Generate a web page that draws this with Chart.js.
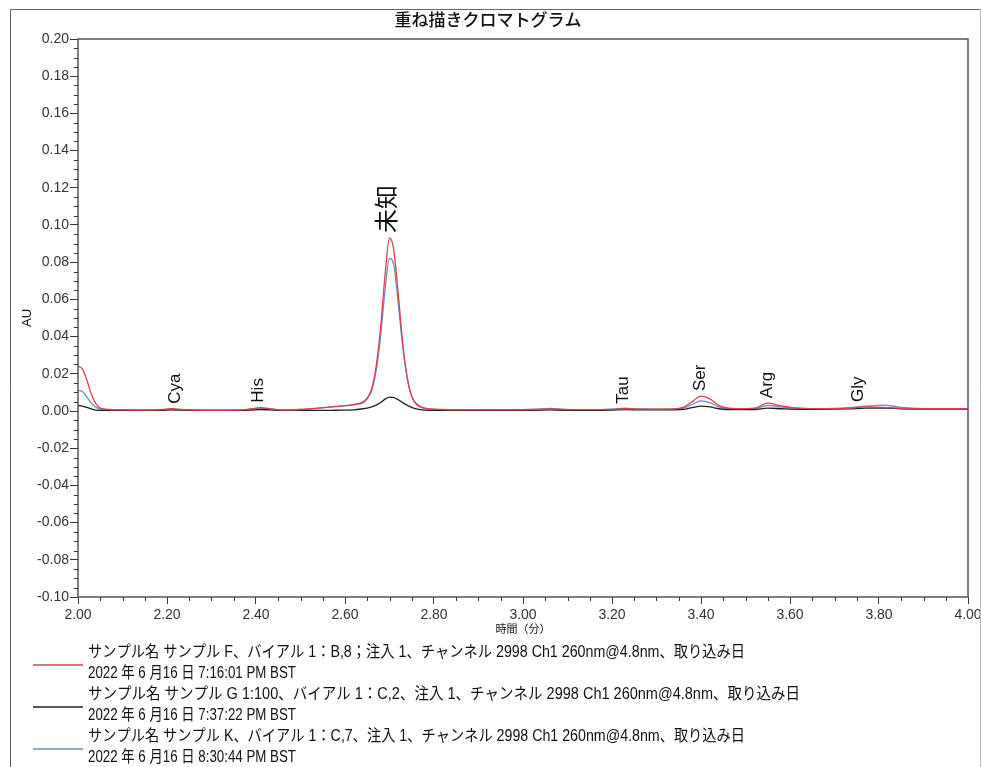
<!DOCTYPE html>
<html>
<head>
<meta charset="utf-8">
<script src="https://cdn.jsdelivr.net/npm/chart.js@4/dist/chart.umd.min.js"></script>
<style>
  body { margin: 0; background: #fff; }
  canvas { display: block; }
</style>
</head>
<body>
<canvas id="myChart" width="981" height="767"></canvas>
<script>
// retention time (min)
const times = [
    2.00, 2.01, 2.02, 2.03, 2.04, 2.05, 2.07, 2.10, 2.15, 2.19, 2.21, 2.23, 2.27, 2.32,
    2.37, 2.39, 2.41, 2.43, 2.46, 2.50, 2.54, 2.58, 2.62,
    2.64, 2.65, 2.66, 2.67, 2.68, 2.69, 2.70, 2.71, 2.72, 2.73, 2.74, 2.75, 2.76,
    2.78, 2.82, 2.90, 2.98, 3.03, 3.06, 3.09, 3.15, 3.20, 3.23, 3.26, 3.32,
    3.36, 3.38, 3.40, 3.42, 3.44, 3.48, 3.52, 3.55, 3.58, 3.62, 3.68, 3.73, 3.77,
    3.81, 3.85, 3.90, 3.95, 4.00
];

// サンプル F (red)
const sampleF = [
    0.0240, 0.0225, 0.0165, 0.0090, 0.0040, 0.0015, 0.0008, 0.0006, 0.0005, 0.0008, 0.0012, 0.0009, 0.0005, 0.0004,
    0.0006, 0.0012, 0.0018, 0.0013, 0.0005, 0.0008, 0.0016, 0.0025, 0.0036,
    0.0048, 0.0070, 0.0120, 0.0240, 0.0450, 0.0730, 0.0930, 0.0860, 0.0620, 0.0360, 0.0180, 0.0080, 0.0040,
    0.0015, 0.0008, 0.0006, 0.0006, 0.0008, 0.0011, 0.0008, 0.0007, 0.0009, 0.0012, 0.0010, 0.0010,
    0.0020, 0.0050, 0.0080, 0.0065, 0.0030, 0.0012, 0.0015, 0.0042, 0.0028, 0.0015, 0.0012, 0.0014, 0.0022,
    0.0020, 0.0014, 0.0012, 0.0012, 0.0012
];

// サンプル G 1:100 (black)
const sampleG = [
    0.0030, 0.0026, 0.0019, 0.0011, 0.0005, 0.0003, 0.0003, 0.0003, 0.0003, 0.0004, 0.0006, 0.0005, 0.0003, 0.0003,
    0.0003, 0.0005, 0.0008, 0.0006, 0.0003, 0.0003, 0.0003, 0.0004, 0.0006,
    0.0012, 0.0016, 0.0022, 0.0032, 0.0046, 0.0064, 0.0075, 0.0072, 0.0060, 0.0045, 0.0030, 0.0019, 0.0011,
    0.0005, 0.0003, 0.0003, 0.0003, 0.0004, 0.0006, 0.0004, 0.0004, 0.0005, 0.0007, 0.0006, 0.0006,
    0.0009, 0.0018, 0.0026, 0.0022, 0.0012, 0.0007, 0.0008, 0.0015, 0.0012, 0.0009, 0.0009, 0.0011, 0.0015,
    0.0016, 0.0012, 0.0010, 0.0010, 0.0010
];

// サンプル K (blue)
const sampleK = [
    0.0110, 0.0105, 0.0075, 0.0042, 0.0020, 0.0010, 0.0007, 0.0006, 0.0005, 0.0007, 0.0010, 0.0008, 0.0005, 0.0004,
    0.0006, 0.0010, 0.0015, 0.0011, 0.0005, 0.0008, 0.0015, 0.0023, 0.0033,
    0.0044, 0.0065, 0.0110, 0.0215, 0.0400, 0.0650, 0.0820, 0.0780, 0.0570, 0.0340, 0.0170, 0.0075, 0.0036,
    0.0013, 0.0007, 0.0006, 0.0007, 0.0010, 0.0014, 0.0009, 0.0007, 0.0010, 0.0015, 0.0011, 0.0010,
    0.0016, 0.0035, 0.0054, 0.0045, 0.0022, 0.0011, 0.0013, 0.0030, 0.0022, 0.0014, 0.0013, 0.0018, 0.0026,
    0.0032, 0.0020, 0.0013, 0.0012, 0.0012
];

// peak annotations
const peakNames = ['Cya', 'His', '未知', 'Tau', 'Ser', 'Arg', 'Gly'];
const peakTimes = [2.218, 2.405, 2.697, 3.225, 3.398, 3.548, 3.753];
const peakHeights = [0.0012, 0.0018, 0.093, 0.0012, 0.008, 0.0042, 0.0022];

const legendLines = [
    ['サンプル名 サンプル F、バイアル 1：B,8；注入 1、チャンネル 2998 Ch1 260nm@4.8nm、取り込み日', '2022 年 6 月16 日 7:16:01 PM BST'],
    ['サンプル名 サンプル G 1:100、バイアル 1：C,2、注入 1、チャンネル 2998 Ch1 260nm@4.8nm、取り込み日', '2022 年 6 月16 日 7:37:22 PM BST'],
    ['サンプル名 サンプル K、バイアル 1：C,7、注入 1、チャンネル 2998 Ch1 260nm@4.8nm、取り込み日', '2022 年 6 月16 日 8:30:44 PM BST']
];
const legendWidths = [657, 712, 657];

const FONT = '"Liberation Sans", Arial, "Noto Sans CJK JP", sans-serif';
const colors = ['#e0404c', '#202020', '#6b8cc4'];

function toPoints(vals) {
    return times.map((t, i) => ({ x: t, y: vals[i] }));
}

function isMajor(v, step) {
    return Math.abs(v / step - Math.round(v / step)) < 1e-6;
}

// title, frame, box, minor ticks, peak names, legend
const decorations = {
    id: 'decorations',
    afterDraw(chart) {
        const ctx = chart.ctx;
        const area = chart.chartArea;
        const xs = chart.scales.x;
        const ys = chart.scales.y;
        ctx.save();

        // outer frame
        ctx.strokeStyle = '#666';
        ctx.lineWidth = 1;
        ctx.beginPath();
        ctx.moveTo(10.5, 780);
        ctx.lineTo(10.5, 9.5);
        ctx.lineTo(980.5, 9.5);
        ctx.stroke();
        ctx.strokeStyle = '#bbb';
        ctx.beginPath();
        ctx.moveTo(980.5, 9.5);
        ctx.lineTo(980.5, 780);
        ctx.stroke();

        // plot box
        ctx.strokeStyle = '#555';
        ctx.lineWidth = 1.5;
        ctx.strokeRect(area.left, area.top, area.right - area.left, area.bottom - area.top);

        // minor ticks
        ctx.strokeStyle = '#333';
        ctx.lineWidth = 1;
        ctx.beginPath();
        xs.ticks.forEach(t => {
            if (isMajor(t.value, 0.2)) return;
            const px = Math.round(xs.getPixelForValue(t.value)) + 0.5;
            ctx.moveTo(px, area.bottom);
            ctx.lineTo(px, area.bottom + 4);
        });
        ys.ticks.forEach(t => {
            if (isMajor(t.value, 0.02)) return;
            const py = Math.round(ys.getPixelForValue(t.value)) + 0.5;
            ctx.moveTo(area.left, py);
            ctx.lineTo(area.left - 4, py);
        });
        ctx.stroke();

        // title
        ctx.fillStyle = '#111';
        ctx.textAlign = 'center';
        ctx.textBaseline = 'middle';
        ctx.font = '500 17px ' + FONT;
        ctx.fillText('重ね描きクロマトグラム', 488, 21);

        // axis titles
        ctx.font = '11px ' + FONT;
        ctx.fillText('時間（分）', (area.left + area.right) / 2, 630);
        ctx.save();
        ctx.translate(27, (area.top + area.bottom) / 2);
        ctx.rotate(-Math.PI / 2);
        ctx.font = '13px ' + FONT;
        ctx.fillText('AU', 0, 0);
        ctx.restore();

        // peak names
        peakNames.forEach((name, i) => {
            const px = xs.getPixelForValue(peakTimes[i]);
            const py = ys.getPixelForValue(peakHeights[i]) - 5;
            ctx.save();
            ctx.translate(px, py);
            ctx.rotate(-Math.PI / 2);
            ctx.textAlign = 'left';
            ctx.textBaseline = 'middle';
            ctx.font = (name === '未知' ? '24px ' : '17px ') + FONT;
            ctx.fillText(name, 0, 0);
            ctx.restore();
        });

        // legend
        ctx.textAlign = 'left';
        ctx.textBaseline = 'middle';
        ctx.font = '16px ' + FONT;
        legendLines.forEach((lines, i) => {
            const y0 = 653 + i * 42;
            ctx.strokeStyle = colors[i];
            ctx.lineWidth = 1.5;
            ctx.beginPath();
            ctx.moveTo(33, y0 + 12);
            ctx.lineTo(83, y0 + 12);
            ctx.stroke();
            ctx.fillStyle = '#111';
            ctx.fillText(lines[0], 88, y0, legendWidths[i]);
            ctx.fillText(lines[1], 88, y0 + 21, 208);
        });

        ctx.restore();
    }
};

const ctxEl = document.getElementById('myChart');
new Chart(ctxEl.getContext('2d'), {
    type: 'line',
    data: {
        datasets: [
            { label: 'サンプル F', data: toPoints(sampleF), borderColor: colors[0] },
            { label: 'サンプル G 1:100', data: toPoints(sampleG), borderColor: colors[1] },
            { label: 'サンプル K', data: toPoints(sampleK), borderColor: colors[2] }
        ]
    },
    options: {
        responsive: false,
        animation: false,
        devicePixelRatio: 1,
        parsing: false,
        elements: {
            point: { radius: 0 },
            line: { borderWidth: 1.3, cubicInterpolationMode: 'monotone', fill: false }
        },
        layout: { padding: { left: 28, top: 39, right: 13, bottom: 148 } },
        plugins: {
            legend: { display: false },
            title: { display: false },
            tooltip: { enabled: false }
        },
        scales: {
            x: {
                type: 'linear',
                min: 2,
                max: 4,
                border: { display: false },
                grid: {
                    drawOnChartArea: false,
                    tickLength: 7,
                    tickColor: c => isMajor(c.tick.value, 0.2) ? '#333' : 'rgba(0,0,0,0)'
                },
                ticks: {
                    stepSize: 0.05,
                    autoSkip: false,
                    maxRotation: 0,
                    padding: 3,
                    color: '#333',
                    font: { size: 14, family: FONT },
                    callback: v => isMajor(v, 0.2) ? v.toFixed(2) : ''
                },
                afterFit(scale) {
                    scale.height = 22;
                    scale.paddingLeft = 0;
                    scale.paddingRight = 0;
                }
            },
            y: {
                min: -0.1,
                max: 0.2,
                border: { display: false },
                grid: {
                    drawOnChartArea: false,
                    tickLength: 8,
                    tickColor: c => isMajor(c.tick.value, 0.02) ? '#333' : 'rgba(0,0,0,0)'
                },
                ticks: {
                    stepSize: 0.005,
                    autoSkip: false,
                    padding: 1,
                    color: '#333',
                    font: { size: 14, family: FONT },
                    callback: v => isMajor(v, 0.02) ? v.toFixed(2) : ''
                },
                afterFit(scale) { scale.width = 50; }
            }
        }
    },
    plugins: [decorations]
});
</script>
</body>
</html>
